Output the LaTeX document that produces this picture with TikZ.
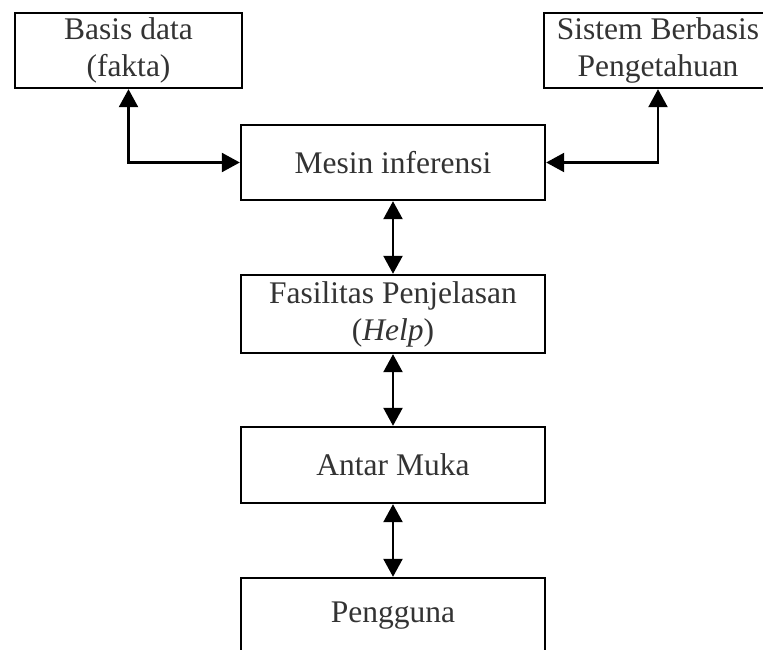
\documentclass[tikz,border=0pt]{standalone}
\usepackage{fontspec}
\setmainfont{Liberation Serif}
\usetikzlibrary{arrows.meta}
\tikzset{
  box/.style={draw, line width=2.4pt, rectangle, inner sep=0pt, align=center,
    font=\fontsize{31.5}{37}\selectfont, text=black!80},
  link/.style={line width=2.4pt, {Triangle[length=18pt,width=19pt]}-{Triangle[length=18pt,width=19pt]}}
}
\begin{document}
\begin{tikzpicture}[x=1pt,y=-1pt]
\useasboundingbox (0,0) rectangle (763,650);
\fill[white] (0,0) rectangle (763,650);
\clip (0,0) rectangle (763,650);
\node[box, minimum width=227pt, minimum height=75pt] (basis) at (128.5,50.5) {Basis data\\(fakta)};
\node[box, minimum width=228pt, minimum height=75pt] (sistem) at (658,50.5) {Sistem Berbasis\\Pengetahuan};
\node[box, minimum width=304pt, minimum height=75pt] (mesin) at (393,162.5) {Mesin inferensi};
\node[box, minimum width=304pt, minimum height=78pt] (fasil) at (393,314) {Fasilitas Penjelasan\\(\textit{Help})};
\node[box, minimum width=304pt, minimum height=76pt] (antar) at (393,465) {Antar Muka};
\node[box, minimum width=304pt, minimum height=76pt] (user) at (393,616) {Pengguna};
\draw[link] (basis.south) |- (mesin.west);
\draw[link] (sistem.south) |- (mesin.east);
\draw[link] (mesin.south) -- (fasil.north);
\draw[link] (fasil.south) -- (antar.north);
\draw[link] (antar.south) -- (user.north);
\end{tikzpicture}
\end{document}
